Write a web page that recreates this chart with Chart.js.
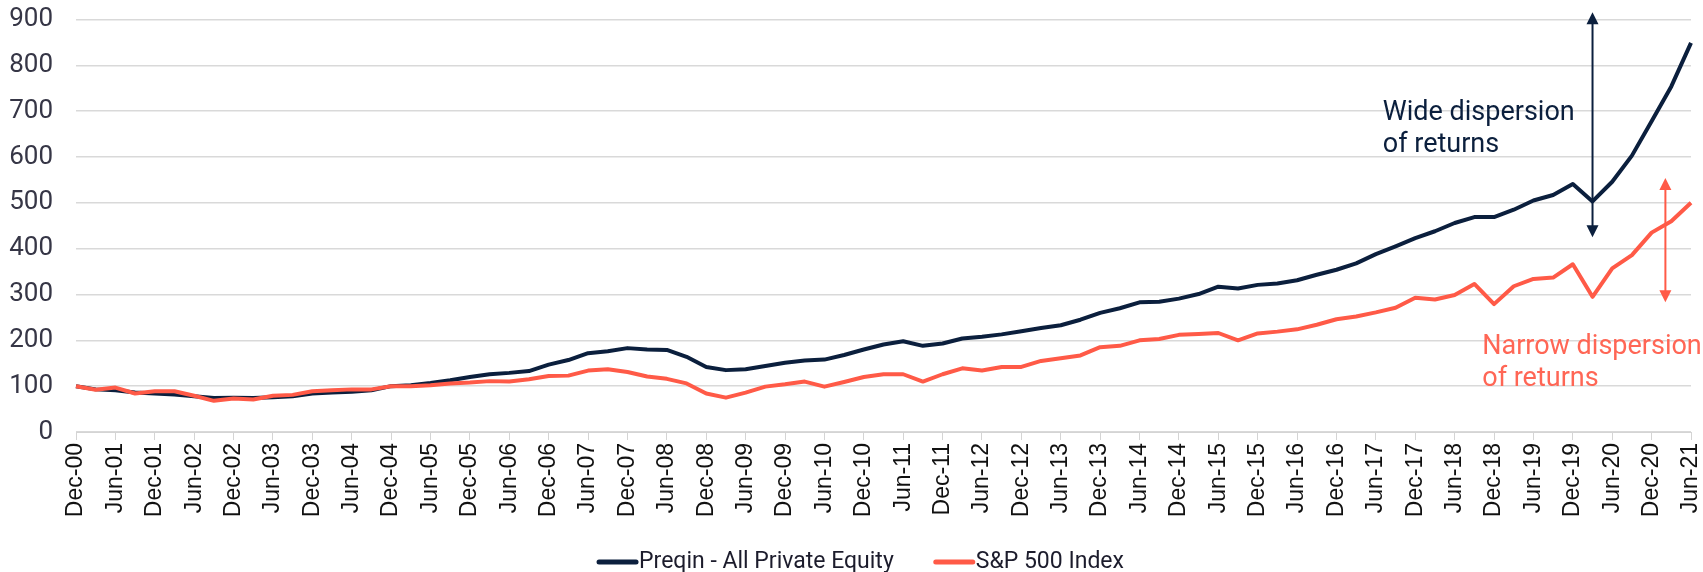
<!DOCTYPE html>
<html><head><meta charset="utf-8">
<script src="https://cdn.jsdelivr.net/npm/chart.js@4/dist/chart.umd.min.js"></script>
<style>html,body{margin:0;padding:0;background:#fff;overflow:hidden}#wrap{width:1703px;height:572px;position:relative}</style>
</head><body><div id="wrap"><canvas id="c" width="1703" height="572"></canvas></div>
<script>
const quarters = [
 "Dec-00",
 "Mar-01","Jun-01","Sep-01","Dec-01",
 "Mar-02","Jun-02","Sep-02","Dec-02",
 "Mar-03","Jun-03","Sep-03","Dec-03",
 "Mar-04","Jun-04","Sep-04","Dec-04",
 "Mar-05","Jun-05","Sep-05","Dec-05",
 "Mar-06","Jun-06","Sep-06","Dec-06",
 "Mar-07","Jun-07","Sep-07","Dec-07",
 "Mar-08","Jun-08","Sep-08","Dec-08",
 "Mar-09","Jun-09","Sep-09","Dec-09",
 "Mar-10","Jun-10","Sep-10","Dec-10",
 "Mar-11","Jun-11","Sep-11","Dec-11",
 "Mar-12","Jun-12","Sep-12","Dec-12",
 "Mar-13","Jun-13","Sep-13","Dec-13",
 "Mar-14","Jun-14","Sep-14","Dec-14",
 "Mar-15","Jun-15","Sep-15","Dec-15",
 "Mar-16","Jun-16","Sep-16","Dec-16",
 "Mar-17","Jun-17","Sep-17","Dec-17",
 "Mar-18","Jun-18","Sep-18","Dec-18",
 "Mar-19","Jun-19","Sep-19","Dec-19",
 "Mar-20","Jun-20","Sep-20","Dec-20",
 "Mar-21","Jun-21"
];
const tickLabels = ["Dec-00","Jun-01","Dec-01","Jun-02","Dec-02","Jun-03","Dec-03","Jun-04","Dec-04","Jun-05","Dec-05","Jun-06","Dec-06","Jun-07","Dec-07","Jun-08","Dec-08","Jun-09","Dec-09","Jun-10","Dec-10","Jun-11","Dec-11","Jun-12","Dec-12","Jun-13","Dec-13","Jun-14","Dec-14","Jun-15","Dec-15","Jun-16","Dec-16","Jun-17","Dec-17","Jun-18","Dec-18","Jun-19","Dec-19","Jun-20","Dec-20","Jun-21"];
const preqin = [100,93,91,86,84,82,78,74,75,74,76,78,84,86,88,91,100,102,107,113,120,126,129,133,147,157,172,176,183,180,179,164,142,135,137,144,151,156,158,168,180,191,198,188,193,204,208,213,220,227,233,245,260,270,283,284,291,301,317,313,321,324,331,343,354,368,388,405,423,438,456,469,469,485,505,517,541,503,546,603,678,754,849];
const sp500 = [100,92,97,84,89,89,79,68,73,71,79,81,89,91,93,93,100,100,102,106,108,111,110,115,122,123,134,137,131,121,116,106,84,75,86,99,104,110,99,109,120,126,126,110,126,139,134,142,142,155,161,167,185,188,200,203,212,214,216,200,215,219,224,234,246,252,261,271,293,289,299,323,279,318,334,337,366,295,357,386,435,460,500];
const seriesNames = ["Preqin - All Private Equity","S&P 500 Index"];
const yMin = 0, yMax = 900, yStep = 100;

const NAVY = '#0b1f3d', CORAL = '#ff5a47', CORAL_TXT = '#ff6655';

const annotationPlugin = {
  id: 'annot',
  afterDatasetsDraw(chart) {
    const ctx = chart.ctx, xs = chart.scales.x, ys = chart.scales.y;
    function arrow(xv, v1, v2, color) {
      const x = xs.getPixelForValue(xv), yt = ys.getPixelForValue(v1), yb = ys.getPixelForValue(v2);
      ctx.save();
      ctx.strokeStyle = color; ctx.fillStyle = color; ctx.lineWidth = 2;
      ctx.beginPath(); ctx.moveTo(x, yt + 8); ctx.lineTo(x, yb - 8); ctx.stroke();
      ctx.beginPath(); ctx.moveTo(x, yt); ctx.lineTo(x - 6, yt + 12); ctx.lineTo(x + 6, yt + 12); ctx.closePath(); ctx.fill();
      ctx.beginPath(); ctx.moveTo(x, yb); ctx.lineTo(x - 6, yb - 12); ctx.lineTo(x + 6, yb - 12); ctx.closePath(); ctx.fill();
      ctx.restore();
    }
    arrow(77, 916, 425, NAVY);
    arrow(80.7, 554, 283, CORAL);
    function text(lines, xv, v, color) {
      const x = xs.getPixelForValue(xv), y = ys.getPixelForValue(v);
      ctx.save();
      ctx.font = '27px Roboto'; ctx.fillStyle = color; ctx.textAlign = 'left'; ctx.textBaseline = 'middle';
      lines.forEach((l, i) => ctx.fillText(l, x, y + i * 32));
      ctx.restore();
    }
    text(["Wide dispersion", "of returns"], 66.35, 696, NAVY);
    text(["Narrow dispersion", "of returns"], 71.4, 185, CORAL_TXT);
  }
};

const legendPlugin = {
  id: 'customLegend',
  afterDraw(chart) {
    const ctx = chart.ctx;
    ctx.save();
    ctx.font = '23px Roboto'; ctx.textBaseline = 'middle'; ctx.textAlign = 'left';
    const lineW = 43, gap = 39;
    const ds = chart.data.datasets;
    const widths = ds.map(d => lineW + ctx.measureText(d.label).width);
    const total = widths.reduce((a, b) => a + b, 0) + gap * (ds.length - 1);
    let x = chart.width / 2 + 8.5 - total / 2;
    const y = 562;
    ds.forEach((d, i) => {
      ctx.strokeStyle = d.borderColor; ctx.lineWidth = 5; ctx.lineCap = 'round';
      ctx.beginPath(); ctx.moveTo(x + 3, y); ctx.lineTo(x + lineW - 3, y); ctx.stroke();
      ctx.fillStyle = '#1c1c2c';
      ctx.fillText(d.label, x + lineW, y);
      x += widths[i] + gap;
    });
    ctx.restore();
  }
};

new Chart(document.getElementById('c'), {
  type: 'line',
  data: {
    labels: quarters,
    datasets: [
      { label: seriesNames[0], data: preqin, borderColor: NAVY, backgroundColor: NAVY, borderWidth: 4, pointRadius: 0, tension: 0, order: 2, borderJoinStyle: 'round' },
      { label: seriesNames[1], data: sp500, borderColor: CORAL, backgroundColor: CORAL, borderWidth: 4, pointRadius: 0, tension: 0, order: 1, borderJoinStyle: 'round' }
    ]
  },
  options: {
    responsive: false, animation: false, devicePixelRatio: 1,
    layout: { padding: { top: 0, right: 0, bottom: 26, left: 0 } },
    plugins: { legend: { display: false }, tooltip: { enabled: false } },
    scales: {
      x: {
        type: 'category', offset: false,
        grid: { drawOnChartArea: false, drawTicks: true, tickLength: 8, color: '#d4d4d4' },
        border: { display: true, color: '#d4d4d4' },
        ticks: {
          autoSkip: false, maxRotation: 90, minRotation: 90, padding: 3,
          font: { family: 'Liberation Sans', size: 23 }, color: '#111',
          callback: function (v, i) { const l = quarters[i]; return tickLabels.includes(l) ? l : null; }
        },
        afterFit: s => { s.height = 114; s.paddingLeft = 0; s.paddingRight = 12; }
      },
      y: {
        min: yMin, max: yMax,
        grid: { color: '#d9d9d9', lineWidth: 1.5, drawTicks: false },
        border: { display: false },
        ticks: { stepSize: yStep, padding: 23, font: { family: 'Roboto', size: 26 }, color: '#363646' },
        afterFit: s => { s.width = 76; s.paddingTop = 19.5; s.paddingBottom = 0; }
      }
    }
  },
  plugins: [annotationPlugin, legendPlugin]
});
</script></body></html>
